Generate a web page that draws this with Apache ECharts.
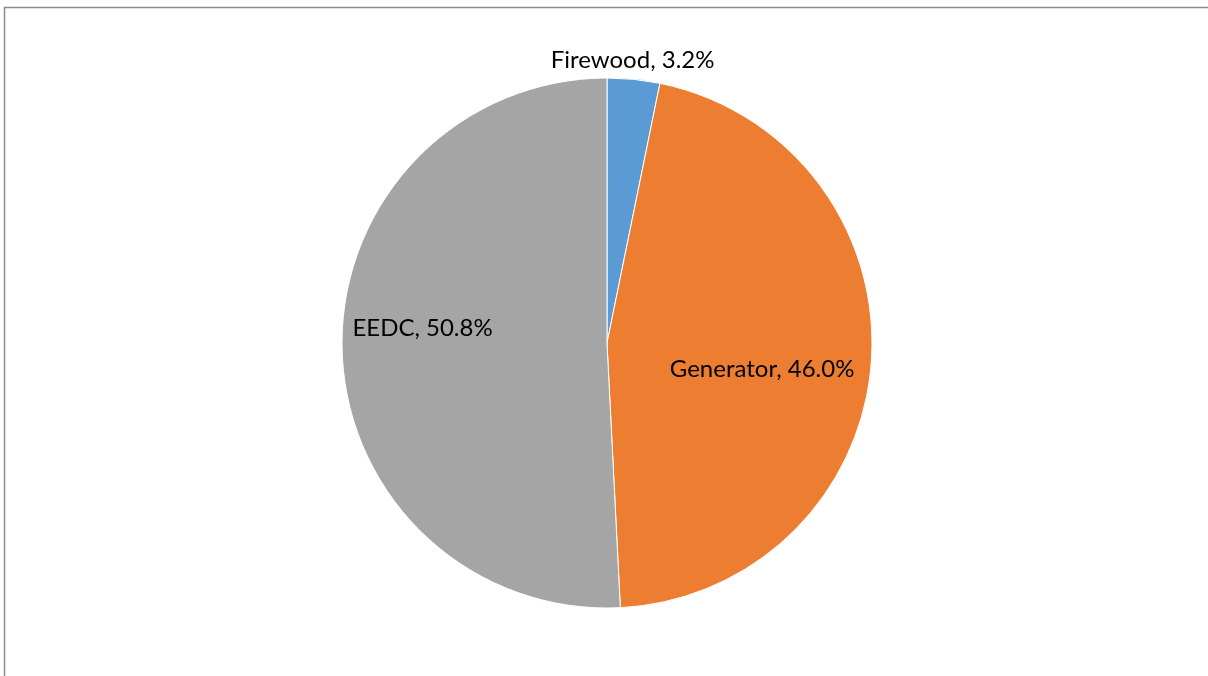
<!DOCTYPE html>
<html>
<head>
<meta charset="utf-8">
<script src="https://cdn.jsdelivr.net/npm/echarts@6/dist/echarts.min.js"></script>
<style>html,body{margin:0;padding:0;background:#fff;}#c{width:1208px;height:676px;}</style>
</head>
<body>
<div id="c"></div>
<script>
const categories = ['Firewood', 'Generator', 'EEDC'];
const values = [3.2, 46.0, 50.8];
const colors = ['#5B9BD5', '#ED7D31', '#A5A5A5'];
const labelOffsets = [[12, -148], [20, 16], [-49, -18]];

const chart = echarts.init(document.getElementById('c'), null, {renderer: 'canvas'});
chart.setOption({
  animation: false,
  graphic: [{
    type: 'rect',
    shape: {x: 4.5, y: 7.5, width: 1260, height: 720},
    style: {fill: 'none', stroke: '#8c8c8c', lineWidth: 1.5},
    silent: true
  }],
  series: [{
    type: 'pie',
    center: [607, 343],
    radius: [0, 265],
    startAngle: 90,
    clockwise: true,
    label: {
      show: true,
      position: 'inside',
      fontFamily: 'Lato',
      fontSize: 24,
      color: '#000',
      formatter: p => p.name + ', ' + p.value.toFixed(1) + '%'
    },
    labelLine: {show: false},
    itemStyle: {borderColor: '#fff', borderWidth: 1},
    data: categories.map((n, i) => ({
      name: n, value: values[i],
      itemStyle: {color: colors[i]},
      label: {offset: labelOffsets[i]}
    }))
  }]
});
</script>
</body>
</html>
